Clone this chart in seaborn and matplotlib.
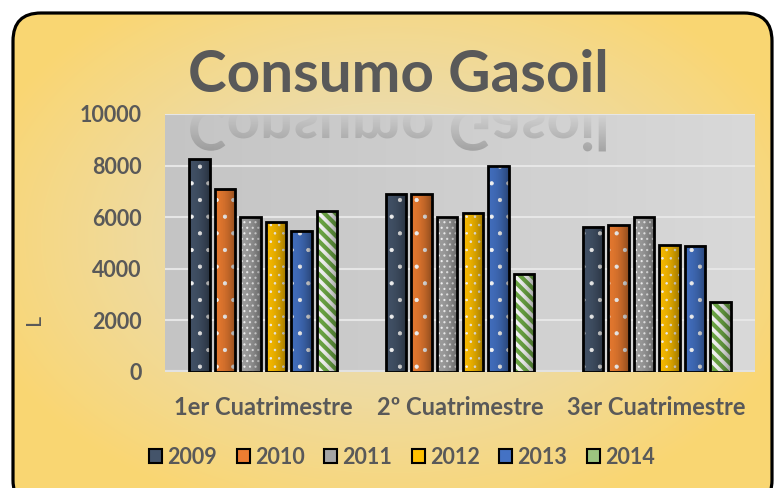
import numpy as np
import pandas as pd
import seaborn as sns
import matplotlib.pyplot as plt
from matplotlib.patches import FancyBboxPatch, Rectangle, Patch, PathPatch
from matplotlib.textpath import TextPath
from matplotlib.font_manager import FontProperties
from matplotlib.transforms import Affine2D

# datos
cuatrimestres = ["1er Cuatrimestre", "2º Cuatrimestre", "3er Cuatrimestre"]
anios = ["2009", "2010", "2011", "2012", "2013", "2014"]
v2009 = [8250, 6900, 5630]
v2010 = [7100, 6880, 5680]
v2011 = [6000, 6000, 6000]
v2012 = [5800, 6180, 4910]
v2013 = [5470, 8000, 4900]
v2014 = [6230, 3800, 2730]

valores = [v2009, v2010, v2011, v2012, v2013, v2014]
df = pd.DataFrame({
    "cuatrimestre": [c for v in valores for c in cuatrimestres],
    "anio": [a for a, v in zip(anios, valores) for _ in v],
    "litros": [x for v in valores for x in v],
})

colores = ["#44546A", "#ED7D31", "#A5A5A5", "#FFC000", "#4472C4", "#FFFFFF"]
hatches = [".", ".", "...", "..", ".", "\\\\\\"]
hatch_col = ["white", "white", "white", "white", "white", "#70AD47"]
hatch_lw = [0.6, 0.6, 0.8, 0.6, 0.6, 3.0]
gris = "#595959"

plt.rcParams["font.family"] = ["Lato", "DejaVu Sans"]
plt.rcParams["font.weight"] = "bold"

fig = plt.figure(figsize=(7.74, 4.88), dpi=100)
fig.patch.set_facecolor("white")

# --- fondo amarillo con degradado radial y borde redondeado ---
bg = fig.add_axes([0, 0, 1, 1], zorder=-10)
bg.set_xlim(0, 774)
bg.set_ylim(0, 488)
bg.axis("off")
yy, xx = np.mgrid[0:488, 0:774]
d = np.clip(np.sqrt(((xx - 390) / 430) ** 2 + ((yy - 250) / 290) ** 2), 0, 1) ** 1.3
centro = np.array([0.90, 0.87, 0.77])
borde = np.array([0.98, 0.84, 0.45])
img = centro * (1 - d[..., None]) + borde * d[..., None]
im = bg.imshow(img, extent=(0, 774, 0, 488), origin="lower", aspect="auto")
caja = FancyBboxPatch((13, -20), 759, 495, boxstyle="round,pad=0,rounding_size=28",
                      facecolor="none", edgecolor="black", linewidth=2.3)
bg.add_patch(caja)
im.set_clip_path(caja)

# --- area del grafico ---
ax = fig.add_axes([165 / 774, 116 / 488, 590 / 774, 258 / 488])
gx = np.linspace(0, 1, 200)
grad = np.tile((0.77 + 0.08 * gx)[None, :, None], (2, 1, 3))
ax.imshow(grad, extent=(0, 1, 0, 1), transform=ax.transAxes, aspect="auto", zorder=0)

sns.barplot(data=df, x="cuatrimestre", y="litros", hue="anio", palette=colores,
            width=0.78, gap=0.2, saturation=1, legend=False, ax=ax, zorder=2)

sombra = np.tile(np.linspace(0, 1, 50)[None, :], (2, 1))
for i, cont in enumerate(ax.containers):
    for bar in cont:
        bar.set_hatch(hatches[i])
        bar.set_edgecolor(hatch_col[i])
        bar.set_linewidth(0)
        if hasattr(bar, "set_hatch_linewidth"):
            bar.set_hatch_linewidth(hatch_lw[i])
        x0, y0 = bar.get_xy()
        w, h = bar.get_width(), bar.get_height()
        # efecto cilindro
        a = np.zeros((2, 50, 4))
        a[..., 3] = 0.05 + 0.35 * sombra ** 2
        ax.imshow(a, extent=(x0, x0 + w, y0, y0 + h), aspect="auto", zorder=2.5)
        ax.add_patch(Rectangle((x0, y0), w, h, fill=False, edgecolor="black",
                               linewidth=2, zorder=3))

ax.set_xlim(-0.5, 2.5)
ax.set_ylim(0, 10000)
ax.set_yticks(range(0, 10001, 2000))
ax.set_axisbelow(True)
ax.yaxis.grid(True, color="#E6E6E6", linewidth=1.5)
ax.axhline(0, color="#E2E2E2", linewidth=3, zorder=1)
for s in ax.spines.values():
    s.set_visible(False)
ax.tick_params(axis="y", length=0, pad=17, labelsize=15.5, labelcolor=gris)
ax.tick_params(axis="x", length=0, pad=17, labelsize=17, labelcolor=gris)
ax.set_xlabel("")
ax.set_ylabel("L", fontsize=15.5, color=gris)
ax.yaxis.set_label_coords(-0.205, 0.205)

# --- titulo y su reflejo (degradado recortado al area del grafico) ---
fig.text(398 / 774, (488 - 92) / 488, "Consumo Gasoil", ha="center", va="baseline",
         fontsize=42, color=gris)
over = fig.add_axes([0, 0, 1, 1], zorder=5)
over.set_xlim(0, 774)
over.set_ylim(0, 488)
over.axis("off")
tp = TextPath((0, 0), "Consumo Gasoil", size=58.5,
              prop=FontProperties(family="Lato", weight="bold"))
ext = tp.get_extents()
x_ini = 398 - (ext.x0 + ext.x1) / 2
tp = tp.transformed(Affine2D().scale(1, -1).translate(x_ini, 380))
forma = PathPatch(tp, facecolor="none", edgecolor="none", transform=over.transData)
over.add_patch(forma)
fade = np.zeros((60, 2, 4))
fade[..., :3] = 0.40
fade[..., 3] = np.linspace(0.5, 0.0, 60)[:, None]
r = over.imshow(fade, extent=(165, 755, 374, 330), origin="upper", aspect="auto")
r.set_clip_path(forma)

# --- leyenda ---
handles = [Patch(facecolor=c if c != "#FFFFFF" else "#9CC57F", edgecolor="black",
                 linewidth=1.5) for c in colores]
fig.legend(handles, anios, loc="center", bbox_to_anchor=(402 / 774, 31 / 488), ncol=6,
           frameon=False, handlelength=0.6, handleheight=0.6, handletextpad=0.25,
           columnspacing=0.9, fontsize=15.5, labelcolor=gris)

fig.savefig("out.png", dpi=100)
